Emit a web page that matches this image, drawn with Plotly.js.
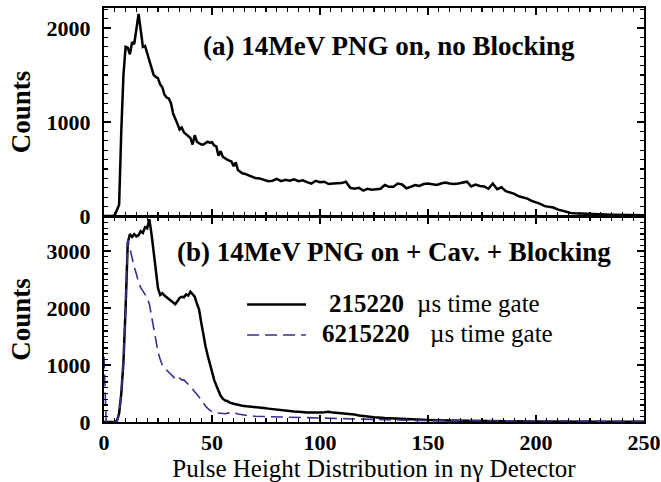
<!DOCTYPE html>
<html>
<head>
<meta charset="utf-8">
<script src="https://cdn.plot.ly/plotly-3.0.1.min.js"></script>
<style>html,body{margin:0;padding:0;background:#fff;}#chart{width:661px;height:482px;}</style>
</head>
<body>
<div id="chart"></div>
<script>
// ---- Panel (a): 14MeV PNG on, no Blocking ----
const xA = [0,4,5,6,7,8,9,10,11,12,13,14,15,16,17,18,19,20,21,22,23,24,25,26,27,28,29,30,31,32,33,34,35,36,37,38,39,40,41,42,43,44,45,46,47,48,49,50,51,52,53,54,55,56,57,58,59,60,61,62,63,64,65,66,68,70,72,74,76,78,80,82,84,86,88,90,92,94,96,98,100,102,104,106,108,110,112,114,116,118,120,122,124,126,128,130,132,134,136,138,140,142,144,146,148,150,152,154,156,158,160,162,164,166,168,170,172,174,176,178,180,182,184,186,188,190,192,194,196,198,200,202,204,206,208,210,212,214,216,218,220,224,228,232,236,240,245,250];
const yA = [0,0,10,60,120,900,1500,1800,1790,1720,1850,1830,1990,2150,1980,1800,1810,1730,1660,1560,1500,1480,1465,1400,1370,1290,1260,1250,1200,1090,1040,980,920,940,890,870,850,830,760,860,790,770,760,760,780,790,780,785,750,740,640,690,630,610,600,590,580,530,570,490,470,455,450,440,420,405,400,385,370,375,395,370,385,375,390,370,380,360,345,375,360,365,340,345,350,350,365,300,290,300,270,290,280,285,290,330,310,310,345,335,295,310,330,320,340,345,335,330,345,355,345,340,345,355,365,315,335,320,315,290,345,285,305,265,250,235,210,200,185,160,145,130,105,95,90,70,55,45,32,28,25,22,18,15,12,10,8,8];

// ---- Panel (b): 14MeV PNG on + Cav. + Blocking ----
const xB1 = [0,5,6,7,8,9,10,11,12,13,14,15,16,17,18,19,20,21,22,23,24,25,26,27,28,29,30,31,32,33,34,35,36,37,38,39,40,41,42,43,44,45,46,47,48,49,50,51,52,53,54,55,56,57,58,60,62,64,66,68,70,72,74,76,78,80,82,84,86,88,90,92,94,96,98,100,102,104,106,108,110,112,114,116,118,120,125,130,135,140,145,150,160,170,180,200,225,250];
const yB1 = [0,5,20,150,500,1050,2000,3150,3300,3250,3300,3260,3280,3350,3320,3420,3400,3560,3300,2950,2600,2350,2230,2260,2220,2190,2150,2120,2100,2070,2120,2180,2200,2190,2240,2220,2290,2250,2200,2080,1980,1750,1520,1330,1170,1020,880,740,640,550,460,410,380,370,345,320,300,285,275,270,265,250,245,235,225,220,210,205,195,185,180,170,165,165,160,165,170,180,165,160,150,150,140,130,115,105,85,70,60,50,40,35,25,18,12,8,5,4];

const xB2 = [0,1,6,7,8,9,10,11,12,13,14,15,16,17,18,19,20,21,22,23,24,25,26,27,28,29,30,31,32,33,34,35,36,37,38,39,40,41,42,43,44,45,46,47,48,49,50,52,54,56,58,60,62,64,66,68,70,75,80,85,90,95,100,105,110,120,130,140,150,175,200,250];
const yB2 = [1150,0,0,150,500,1050,2000,3200,3050,2850,2720,2600,2450,2360,2300,2250,2180,2070,1850,1600,1380,1230,1100,1000,950,910,870,830,790,760,800,770,740,740,700,670,630,580,530,490,440,390,330,280,240,210,180,160,150,145,160,170,140,125,115,105,100,95,85,80,70,65,62,60,50,42,35,30,25,20,15,12];

const seriesNames = ['215220', '6215220'];
const gateLabel = '\u00b5s time gate';
const titleA = '(a) 14MeV PNG on, no Blocking';
const titleB = '(b) 14MeV PNG on + Cav. + Blocking';
const xTitle = 'Pulse Height Distribution in n\u03b3 Detector';
const yTitle = 'Counts';

const serif = '"Liberation Serif", "Times New Roman", serif';
const tickFont = {family: serif, size: 22, color: '#000', weight: 'bold'};
const blue = '#3b2e8e';

const traces = [
  {x: xA, y: yA, xaxis: 'x2', yaxis: 'y2', mode: 'lines', line: {color: '#000', width: 2.5}, showlegend: false},
  {x: xB1, y: yB1, xaxis: 'x', yaxis: 'y', mode: 'lines', name: seriesNames[0], line: {color: '#000', width: 2.5}, showlegend: false},
  {x: xB2, y: yB2, xaxis: 'x', yaxis: 'y', mode: 'lines', name: seriesNames[1], line: {color: blue, width: 1.6, dash: '12px,6px'}, showlegend: false}
];

const axCommon = {
  showline: true, linewidth: 2, linecolor: '#000', mirror: 'ticks',
  ticks: 'inside', ticklen: 7, tickwidth: 2, tickcolor: '#000',
  showgrid: false, zeroline: false, tickfont: tickFont, fixedrange: true
};

const layout = {
  width: 661, height: 482,
  margin: {l: 104, r: 17, t: 8, b: 60},
  paper_bgcolor: '#fff', plot_bgcolor: '#fff',
  xaxis: Object.assign({}, axCommon, {
    range: [0, 250], dtick: 50, anchor: 'y', domain: [0, 1],
    minor: {ticks: 'inside', ticklen: 4, dtick: 5, tickwidth: 1.3, tickcolor: '#000'},
    title: {text: xTitle, font: {family: serif, size: 25, color: '#000'}, standoff: 2}
  }),
  xaxis2: Object.assign({}, axCommon, {
    range: [0, 250], dtick: 50, anchor: 'y2', matches: 'x', showticklabels: false,
    minor: {ticks: 'inside', ticklen: 4, dtick: 5, tickwidth: 1.3, tickcolor: '#000'}
  }),
  yaxis: Object.assign({}, axCommon, {
    range: [0, 3600], dtick: 1000, domain: [0, 0.4952], anchor: 'x', ticklabelstandoff: 7,
    minor: {ticks: 'inside', ticklen: 4, dtick: 100, tickwidth: 1.3, tickcolor: '#000'},
    title: {text: yTitle, font: {family: serif, size: 27, color: '#000', weight: 'bold'}, standoff: 8}
  }),
  yaxis2: Object.assign({}, axCommon, {
    range: [0, 2213], dtick: 1000, domain: [0.4976, 1], anchor: 'x2', ticklabelstandoff: 7,
    minor: {ticks: 'inside', ticklen: 4, dtick: 100, tickwidth: 1.3, tickcolor: '#000'},
    title: {text: yTitle, font: {family: serif, size: 27, color: '#000', weight: 'bold'}, standoff: 8}
  }),
  shapes: [
    {type: 'line', xref: 'paper', yref: 'paper', x0: 0.265, x1: 0.374, y0: 0.284, y1: 0.284, line: {color: '#000', width: 2.5}},
    {type: 'line', xref: 'paper', yref: 'paper', x0: 0.265, x1: 0.374, y0: 0.210, y1: 0.210, line: {color: blue, width: 1.6, dash: '12px,6px'}}
  ],
  annotations: [
    {text: '<b>' + titleA + '</b>', xref: 'paper', yref: 'paper', x: 0.528, y: 0.908, showarrow: false, xanchor: 'center', yanchor: 'middle', font: {family: serif, size: 27, color: '#000'}},
    {text: '<b>' + titleB + '</b>', xref: 'paper', yref: 'paper', x: 0.537, y: 0.411, showarrow: false, xanchor: 'center', yanchor: 'middle', font: {family: serif, size: 27, color: '#000'}},
    {text: '<b>' + seriesNames[0] + '</b>', xref: 'paper', yref: 'paper', x: 0.413, y: 0.287, showarrow: false, xanchor: 'left', yanchor: 'middle', font: {family: serif, size: 25, color: '#000'}},
    {text: gateLabel, xref: 'paper', yref: 'paper', x: 0.576, y: 0.287, showarrow: false, xanchor: 'left', yanchor: 'middle', font: {family: serif, size: 25, color: '#000'}},
    {text: '<b>' + seriesNames[1] + '</b>', xref: 'paper', yref: 'paper', x: 0.400, y: 0.213, showarrow: false, xanchor: 'left', yanchor: 'middle', font: {family: serif, size: 25, color: '#000'}},
    {text: gateLabel, xref: 'paper', yref: 'paper', x: 0.600, y: 0.213, showarrow: false, xanchor: 'left', yanchor: 'middle', font: {family: serif, size: 25, color: '#000'}}
  ]
};

Plotly.newPlot('chart', traces, layout, {displayModeBar: false, staticPlot: true});
</script>
</body>
</html>
